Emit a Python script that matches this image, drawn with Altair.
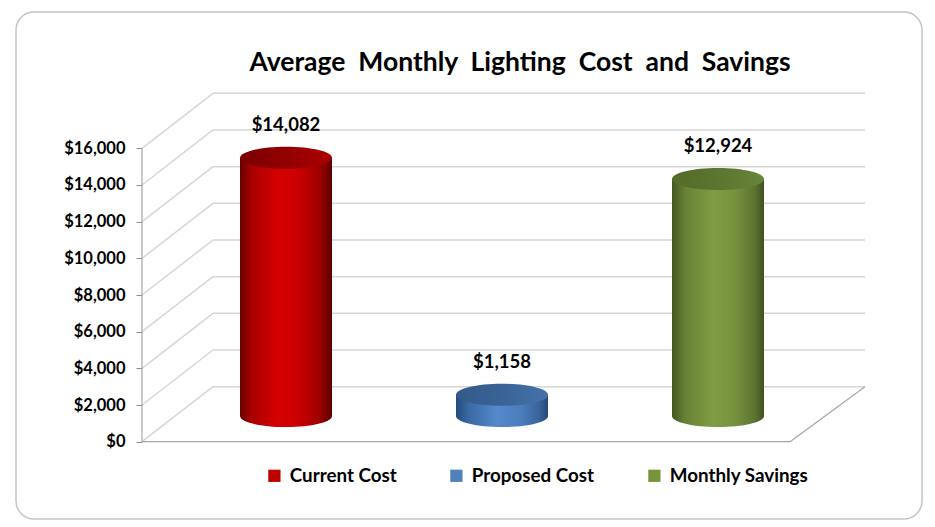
import altair as alt
import pandas as pd

# ---------------- data ----------------
categories = ["Current Cost", "Proposed Cost", "Monthly Savings"]
values = [14082, 1158, 12924]
tick_values = [0, 2000, 4000, 6000, 8000, 10000, 12000, 14000, 16000]
legend_colors = ["#c00000", "#4f81bd", "#77933c"]

# ---------------- geometry / style constants ----------------
W, H = 906, 507
Y_MIN, Y_MAX = -4215, 23433
AXIS_X = 126          # front axis position (in x units of the frame scale)
DEPTH_XL = 71         # depth offset on the left wall
DEPTH_XR = 75         # depth offset on the right side
DEPTH_V = 3000        # depth offset in value units
FLOOR_RIGHT = 774
BASE_V = 1400         # cylinders stand in the middle of the floor depth
CYL_W = 92
CENTERS = [270, 702]
FONT = "Lato"
GRID = "#d6d6d6"
EDGE = "#a6a6a6"

ELLIPSE = "M-1,0A1,0.24,0,1,1,1,0A1,0.24,0,1,1,-1,0Z"

body_stops = {
    "Current Cost": [(0, "#650000"), (0.12, "#a60000"), (0.4, "#d40000"), (0.62, "#cc0000"), (0.86, "#a00000"), (1, "#5a0000")],
    "Proposed Cost": [(0, "#244a78"), (0.14, "#3a6aa5"), (0.45, "#5589cb"), (0.7, "#4b7ebd"), (0.9, "#3a649a"), (1, "#244a78")],
    "Monthly Savings": [(0, "#435524"), (0.14, "#678133"), (0.45, "#809d44"), (0.7, "#75913d"), (0.9, "#5c7330"), (1, "#405022")],
}
top_stops = {
    "Current Cost": [(0, "#7a0000"), (0.6, "#960000"), (1, "#ac0000")],
    "Proposed Cost": [(0, "#33598a"), (0.6, "#3b6699"), (1, "#4573aa")],
    "Monthly Savings": [(0, "#526b29"), (0.6, "#5d7831"), (1, "#68863a")],
}


def grad(stops):
    return alt.LinearGradient(
        gradient="linear",
        stops=[alt.GradientStop(offset=o, color=c) for o, c in stops],
        x1=0, x2=1, y1=0, y2=0,
    )


yscale = alt.Scale(domain=[Y_MIN, Y_MAX], nice=False, zero=False)
yaxis = alt.Axis(
    values=tick_values, format="$,.0f", title=None,
    labelFont=FONT, labelFontWeight="bold", labelFontSize=16.5, labelColor="#000000",
    tickColor="#8c8c8c", tickSize=6, tickWidth=1, domain=False, grid=False,
    labelPadding=11, offset=-AXIS_X,
)


def FY(field):
    return alt.Y(field, type="quantitative", scale=yscale, axis=yaxis)


def FX(field):
    return alt.X(field, type="quantitative",
                 scale=alt.Scale(domain=[0, W], nice=False, zero=False), axis=None)


CX = alt.X("category:N", scale=alt.Scale(type="point", domain=categories, range=CENTERS, padding=0), axis=None)

ticks_df = pd.DataFrame({"v": tick_values})
bars_df = pd.DataFrame({"category": categories, "value": values})
span_df = pd.DataFrame({"lo": [min(tick_values)], "hi": [max(tick_values)]})

layers = []

# back wall gridlines
layers.append(
    alt.Chart(ticks_df).mark_rule(color=GRID, strokeWidth=1.5)
    .transform_calculate(x0=f"{AXIS_X + DEPTH_XL}", x1=f"{FLOOR_RIGHT + DEPTH_XR}", yv=f"datum.v + {DEPTH_V}")
    .encode(x=FX("x0"), x2="x1", y=FY("yv"))
)
# left wall diagonals
layers.append(
    alt.Chart(ticks_df).mark_rule(color=GRID, strokeWidth=1.5)
    .transform_calculate(x0=f"{AXIS_X}", x1=f"{AXIS_X + DEPTH_XL}", y1=f"datum.v + {DEPTH_V}")
    .encode(x=FX("x0"), x2="x1", y=FY("v"), y2="y1")
)
# floor front edge
layers.append(
    alt.Chart(span_df).mark_rule(color=EDGE, strokeWidth=1.2)
    .transform_calculate(x0=f"{AXIS_X}", x1=f"{FLOOR_RIGHT}")
    .encode(x=FX("x0"), x2="x1", y=FY("lo"))
)
# floor right edge
layers.append(
    alt.Chart(span_df).mark_rule(color=EDGE, strokeWidth=1.2)
    .transform_calculate(x0=f"{FLOOR_RIGHT}", x1=f"{FLOOR_RIGHT + DEPTH_XR}", y1=f"datum.lo + {DEPTH_V}")
    .encode(x=FX("x0"), x2="x1", y=FY("lo"), y2="y1")
)
# front vertical axis line
layers.append(
    alt.Chart(span_df).mark_rule(color=EDGE, strokeWidth=1.2)
    .transform_calculate(x0=f"{AXIS_X}")
    .encode(x=FX("x0"), y=FY("lo"), y2="hi")
)

# cylinders
for cat in categories:
    base = (
        alt.Chart(bars_df)
        .transform_filter(alt.datum.category == cat)
        .transform_calculate(base=f"{BASE_V}", top=f"datum.value + {BASE_V}")
    )
    layers.append(
        base.mark_point(shape=ELLIPSE, size=CYL_W ** 2, filled=True, opacity=1,
                        fill=grad(body_stops[cat]), strokeWidth=0)
        .encode(x=CX, y=FY("base"))
    )
    layers.append(
        base.mark_bar(size=CYL_W, fill=grad(body_stops[cat]), strokeWidth=0)
        .encode(x=CX, y=FY("base"), y2="top")
    )
    layers.append(
        base.mark_point(shape=ELLIPSE, size=CYL_W ** 2, filled=True, opacity=1,
                        fill=grad(top_stops[cat]), strokeWidth=0)
        .encode(x=CX, y=FY("top"))
    )

# value labels
layers.append(
    alt.Chart(bars_df)
    .transform_calculate(top=f"datum.value + {BASE_V}")
    .mark_text(font=FONT, fontWeight="bold", fontSize=18.5, color="#000000", dy=-33)
    .encode(x=CX, y=FY("top"), text=alt.Text("value:Q", format="$,.0f"))
)

# legend carrier (invisible points)
layers.append(
    alt.Chart(bars_df)
    .transform_calculate(top=f"datum.value + {BASE_V}")
    .mark_point(size=0, filled=True, opacity=1)
    .encode(
        x=CX, y=FY("top"),
        color=alt.Color(
            "category:N",
            scale=alt.Scale(domain=categories, range=legend_colors),
            legend=alt.Legend(
                title=None, orient="none", legendX=249, legendY=454, direction="horizontal",
                symbolType="square", symbolSize=150, symbolStrokeWidth=0,
                labelFont=FONT, labelFontWeight="bold", labelFontSize=18.8, labelColor="#000000",
                labelOffset=6, columnPadding=50, padding=0,
            ),
        ),
    )
)

chart = (
    alt.layer(*layers)
    .resolve_scale(x="independent")
    .properties(
        width=W, height=H,
        padding={"left": 8, "top": 4, "right": 5, "bottom": 3},
        title=alt.Title(
            "Average\u00a0 Monthly\u00a0 Lighting\u00a0 Cost\u00a0 and\u00a0 Savings",
            font=FONT, fontSize=26.5, fontWeight="bold", color="#000000",
            anchor="middle", dx=51, offset=-85, baseline="alphabetic",
        ),
    )
    .configure_view(stroke="#c4c4c4", strokeWidth=1.5, cornerRadius=18)
)

chart.save("out.html", embed_options={"renderer": "svg", "actions": False})
